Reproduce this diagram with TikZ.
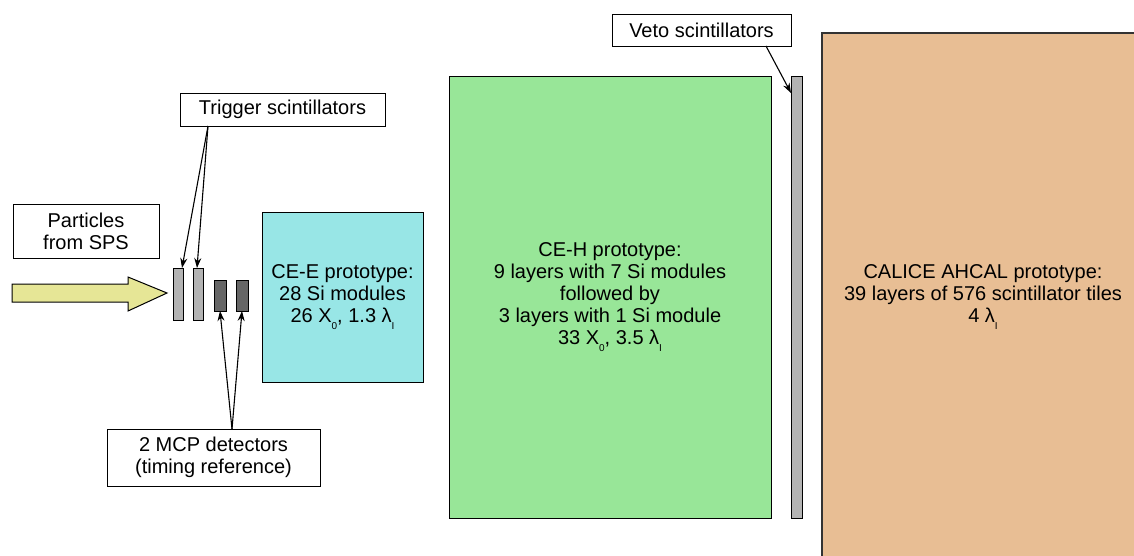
\documentclass[tikz,border=0pt]{standalone}
\usepackage{fontspec}
\setmainfont{Liberation Sans}
\usetikzlibrary{arrows.meta,calc}
\definecolor{ceecol}{RGB}{152,230,230}
\definecolor{cehcol}{RGB}{152,230,152}
\definecolor{ahcol}{RGB}{232,190,148}
\definecolor{lgray}{RGB}{179,179,179}
\definecolor{dgray}{RGB}{102,102,102}
\definecolor{arrcol}{RGB}{230,230,150}
\newcommand\dfont{\fontsize{20}{22.2}\selectfont}
\newcommand\subsc[1]{\raisebox{-7pt}{\fontsize{10}{10}\selectfont #1}}
\begin{document}
\begin{tikzpicture}[x=1pt,y=-1pt,
  lbl/.style={draw=black, line width=1pt, fill=white, inner sep=0pt, outer sep=0pt, align=center, font=\dfont, anchor=north west},
  det/.style={draw=black, line width=1pt, inner sep=0pt, outer sep=0pt, align=center, font=\dfont, anchor=north west},
  arr/.style={draw=black, line width=1.1pt, -{Stealth[length=10pt,width=7pt]}}]
\useasboundingbox (0,0) rectangle (1134,555);
\fill[white] (0,0) rectangle (1134,555);
% AHCAL (cut by the page)
\begin{scope}
\clip (0,0) rectangle (1134,555);
\node[det, fill=ahcol, draw={rgb,255:red,51;green,51;blue,51}, line width=1.5pt, minimum width=322pt, minimum height=528pt] (ahcal) at (822,33)
  {CALICE AHCAL prototype:\\39 layers of 576 scintillator tiles\\4 λ\subsc{I}};
\end{scope}
% labels
\node[lbl, minimum width=146pt, minimum height=54pt] (part) at (13,204) {Particles\\from SPS};
\node[lbl, minimum width=205pt, minimum height=33pt] (trig) at (180,93) {Trigger scintillators};
\node[lbl, minimum width=213pt, minimum height=57pt] (mcp) at (107,429) {2 MCP detectors\\(timing reference)};
\node[lbl, minimum width=179pt, minimum height=32pt] (veto) at (612,14) {Veto scintillators};
% beam arrow
\draw[fill=arrcol, line width=1pt, line join=miter] (12,284) -- (128,284) -- (128,277) -- (167,293) -- (128,311) -- (128,302) -- (12,302) -- cycle;
% trigger scintillators
\node[det, fill=lgray, minimum width=10pt, minimum height=52pt] (t1) at (173,268) {};
\node[det, fill=lgray, minimum width=10pt, minimum height=52pt] (t2) at (193,268) {};
% MCPs
\node[det, fill=dgray, minimum width=12pt, minimum height=31pt] (m1) at (214,280) {};
\node[det, fill=dgray, minimum width=12pt, minimum height=31pt] (m2) at (236,280) {};
% calorimeters
\node[det, fill=ceecol, minimum width=161pt, minimum height=170pt] (cee) at (262,212)
  {CE-E prototype:\\28 Si modules\\26 X\subsc{0}, 1.3 λ\subsc{I}};
\node[det, fill=cehcol, minimum width=322pt, minimum height=442pt] (ceh) at (449,76)
  {CE-H prototype:\\9 layers with 7 Si modules\\followed by\\3 layers with 1 Si module\\33 X\subsc{0}, 3.5 λ\subsc{I}};
\node[det, fill=lgray, minimum width=11pt, minimum height=442pt] (vs) at (791,76) {};
% connectors
\coordinate (ts) at ($(trig.south west)+(28,0)$);
\draw[arr] (ts) -- ([xshift=4pt]t1.north);
\draw[arr] (ts) -- ([xshift=-1pt]t2.north);
\coordinate (ms) at ($(mcp.north west)+(125,0)$);
\draw[arr] (ms) -- (m1.south);
\draw[arr] (ms) -- (m2.south);
\coordinate (vsrc) at ($(veto.south west)+(154,0)$);
\draw[arr] (vsrc) -- ($(vs.north west)+(0,17)$);
\end{tikzpicture}
\end{document}
